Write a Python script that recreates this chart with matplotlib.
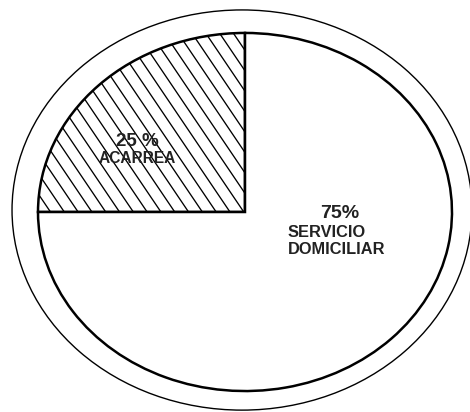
import numpy as np
import matplotlib
matplotlib.use('Agg')
import matplotlib.pyplot as plt
from matplotlib.patches import Ellipse

# datos
etiquetas = ['ACARREA', 'SERVICIO\nDOMICILIAR']
porcentajes = [25, 75]

plt.rcParams['font.family'] = ['Liberation Sans', 'DejaVu Sans']

fig = plt.figure(figsize=(4.7, 4.12), dpi=100)
ax = fig.add_axes([0, 0, 1, 1])

# pastel (aspect auto -> sale eliptico)
wedges, _ = ax.pie(porcentajes, startangle=90, counterclock=True,
                   colors=['white', 'white'],
                   wedgeprops=dict(edgecolor='black', linewidth=1.8))
ax.set_xlim(-1.1836, 1.087)
ax.set_ylim(-1.117, 1.184)
ax.set_aspect('auto')
ax.axis('off')

# rayado del 25% (lineas inclinadas, recortadas a la cuña)
k = 1.71
for x0 in np.arange(-0.0725 - 0.0667 * 30, 1.0, 0.0667):
    xs = np.array([x0 - 1.5, x0 + 1.5])
    ln, = ax.plot(xs, -k * (xs - x0), color='black', lw=0.95, zorder=3)
    ln.set_clip_path(wedges[0])

# anillo exterior
outer = Ellipse((-0.0145, 0.011), 2.222, 2.235, fill=False,
                edgecolor='black', lw=1.0)
ax.add_patch(outer)

# textos
ax.text((137 - 245) / 207, (212 - 142) / 179, '%d %%' % porcentajes[0],
        ha='center', va='center', fontsize=13.5, fontweight='bold',
        color='#222222', zorder=5)
ax.text((137 - 245) / 207, (212 - 159) / 179, etiquetas[0],
        ha='center', va='center', fontsize=11.2, fontweight='bold',
        color='#222222', zorder=5)
ax.text((340 - 245) / 207, (212 - 214) / 179, '%d%%' % porcentajes[1],
        ha='center', va='center', fontsize=14, fontweight='bold',
        color='#222222')
ax.text((288 - 245) / 207, (212 - 241) / 179, etiquetas[1],
        ha='left', va='center', fontsize=11.8, fontweight='bold',
        color='#222222', linespacing=1.15)

fig.savefig('out.png', dpi=100, facecolor='white')
